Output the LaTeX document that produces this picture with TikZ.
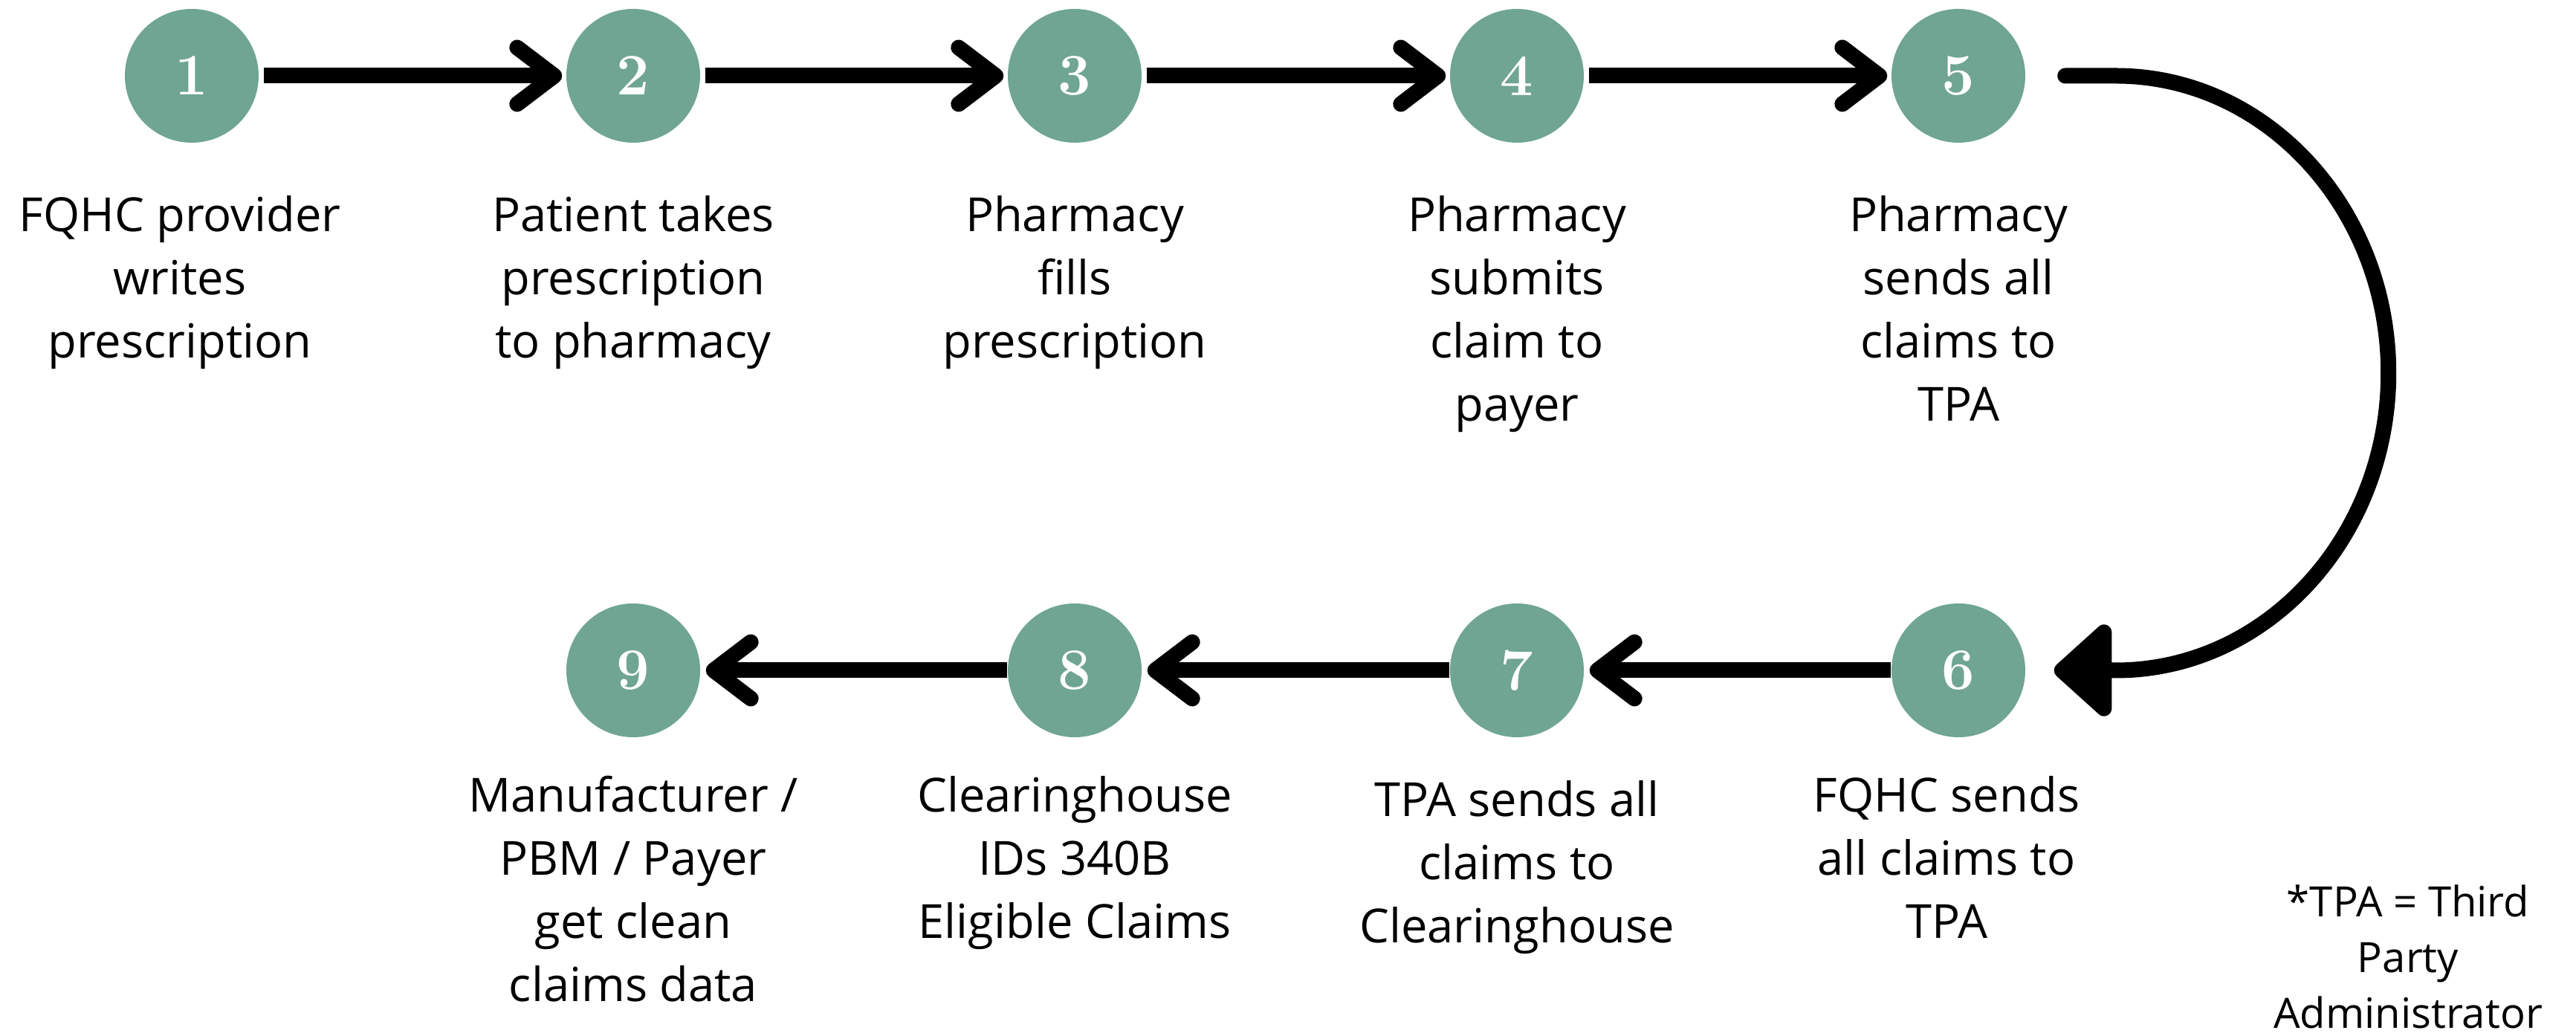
\documentclass[tikz,border=0pt]{standalone}
\usepackage{fontspec}
\newfontfamily\labelfont{Open Sans}
\usetikzlibrary{arrows.meta}
\definecolor{stepgreen}{RGB}{111,165,146}

\begin{document}
\begin{tikzpicture}[
    num/.style={circle, fill=stepgreen, minimum size=1.8cm, inner sep=0pt,
      text=white, font=\fontsize{22.5}{27}\selectfont\bfseries},
    lbl/.style={anchor=north, align=center, inner sep=0pt,
      font=\labelfont\fontsize{18}{24.2}\selectfont},
    note/.style={anchor=north, align=center, inner sep=0pt,
      font=\labelfont\fontsize{16}{21.4}\selectfont},
    flow/.style={line width=0.21cm,
      -{Straight Barb[length=0.5cm, width=0.76cm, line cap=round, line join=round]}},
    uturn/.style={line width=0.21cm, line cap=round,
      -{Triangle[length=0.83cm, width=1.44cm, round]}}
  ]
  \useasboundingbox (0,0) rectangle (34.66,13.94);

  % steps
  \node[num] (s1) at (2.58, 12.92){1};
  \node[num] (s2) at (8.52, 12.92){2};
  \node[num] (s3) at (14.46, 12.92){3};
  \node[num] (s4) at (20.41, 12.92){4};
  \node[num] (s5) at (26.35, 12.92){5};
  \node[num] (s6) at (26.35, 4.92){6};
  \node[num] (s7) at (20.41, 4.92){7};
  \node[num] (s8) at (14.46, 4.92){8};
  \node[num] (s9) at (8.52, 4.92){9};

  \node[lbl] (t1) at (2.42, 11.43){\strut FQHC provider\\writes\\prescription};
  \node[lbl] (t2) at (8.52, 11.43){\strut Patient takes\\prescription\\to pharmacy};
  \node[lbl] (t3) at (14.46, 11.43){\strut Pharmacy\\fills\\prescription};
  \node[lbl] (t4) at (20.41, 11.43){\strut Pharmacy\\submits\\claim to\\payer};
  \node[lbl] (t5) at (26.35, 11.43){\strut Pharmacy\\sends all\\claims to\\TPA};
  \node[lbl] (t6) at (26.19, 3.62){\strut FQHC sends\\all claims to\\TPA};
  \node[lbl] (t7) at (20.41, 3.56){\strut TPA sends all\\claims to\\Clearinghouse};
  \node[lbl] (t8) at (14.46, 3.62){\strut Clearinghouse\\IDs 340B\\Eligible Claims};
  \node[lbl] (t9) at (8.52, 3.62){\strut Manufacturer /\\PBM / Payer\\get clean\\claims data};

  \node[note] (fn) at (32.40, 2.14){\strut *TPA = Third\\Party\\Administrator};

  % connectors
  \draw[flow, shorten <=0.06cm, shorten >=0.05cm] (s1) to (s2);
  \draw[flow, shorten <=0.06cm, shorten >=0.05cm] (s2) to (s3);
  \draw[flow, shorten <=0.06cm, shorten >=0.05cm] (s3) to (s4);
  \draw[flow, shorten <=0.06cm, shorten >=0.05cm] (s4) to (s5);
  \draw[uturn] ([xshift=0.53cm]s5.east) -- ++(0.68,0)
    arc[start angle=90, end angle=-90, x radius=3.67cm, y radius=4cm]
    -- ([xshift=0.38cm]s6.east);
  \draw[flow, shorten >=0.07cm] (s6) to (s7);
  \draw[flow, shorten >=0.07cm] (s7) to (s8);
  \draw[flow, shorten >=0.07cm] (s8) to (s9);
\end{tikzpicture}
\end{document}
